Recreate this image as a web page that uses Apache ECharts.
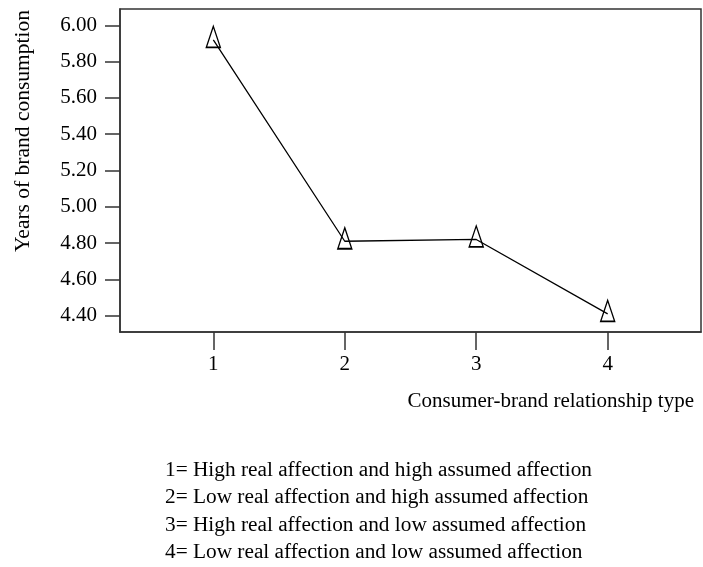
<!DOCTYPE html>
<html>
<head>
<meta charset="utf-8">
<script src="https://cdn.jsdelivr.net/npm/echarts@6/dist/echarts.min.js"></script>
<style>html,body{margin:0;padding:0;background:#fff}#c{width:703px;height:567px}</style>
</head>
<body>
<div id="c"></div>
<script>
var types = [1, 2, 3, 4];
var years = [5.92, 4.81, 4.82, 4.41];
var yTicks = [4.4, 4.6, 4.8, 5.0, 5.2, 5.4, 5.6, 5.8, 6.0];
var xTicks = [1, 2, 3, 4];
var yTitle = 'Years of brand consumption';
var xTitle = 'Consumer-brand relationship type';
var notes = [
  '1= High real affection and high assumed affection',
  '2= Low real affection and high assumed affection',
  '3= High real affection and low assumed affection',
  '4= Low real affection and low assumed affection'
];

var FONT = 'Liberation Serif';
var chart = echarts.init(document.getElementById('c'));
var axisCol = '#333';
var graphics = [
  {type:'text', x:23, y:131, rotation:Math.PI/2,
   style:{text:yTitle, font:'21.5px "Liberation Serif"', fill:'#000', align:'center', verticalAlign:'middle'}},
  {type:'text', x:694, y:401,
   style:{text:xTitle, font:'21px "Liberation Serif"', fill:'#000', align:'right', verticalAlign:'middle'}}
];
notes.forEach(function(t, i){
  graphics.push({type:'text', x:165, y:470 + i*27.6,
    style:{text:t, font:'21.3px "Liberation Serif"', fill:'#000', align:'left', verticalAlign:'middle'}});
});
chart.setOption({
  animation:false,
  backgroundColor:'#fff',
  grid:{left:120, top:9, right:2, bottom:235, show:true, borderColor:axisCol, borderWidth:1.5, backgroundColor:'transparent'},
  xAxis:{type:'value', min:0.29, max:4.71,
    axisLine:{show:true, onZero:false, lineStyle:{color:axisCol, width:1.5}},
    axisTick:{show:true, length:18, customValues:xTicks, lineStyle:{color:axisCol, width:1.5}},
    axisLabel:{customValues:xTicks, margin:22, color:'#000', fontFamily:FONT, fontSize:21},
    splitLine:{show:false}},
  yAxis:{type:'value', min:4.31, max:6.09,
    axisLine:{show:true, onZero:false, lineStyle:{color:axisCol, width:1.5}},
    axisTick:{show:true, length:15, customValues:yTicks, lineStyle:{color:axisCol, width:1.5}},
    axisLabel:{customValues:yTicks, margin:23, color:'#000', fontFamily:FONT, fontSize:21,
      formatter:function(v){return v.toFixed(2);}},
    splitLine:{show:false}},
  series:[{
    type:'line',
    data:types.map(function(t,i){return [t, years[i]];}),
    symbol:'triangle', symbolSize:[14,21], symbolOffset:[0,-3],
    itemStyle:{color:'rgba(0,0,0,0)', borderColor:'#000', borderWidth:1.5},
    lineStyle:{color:'#000', width:1.3},
    showAllSymbol:true
  }],
  graphic:graphics
});
</script>
</body>
</html>
